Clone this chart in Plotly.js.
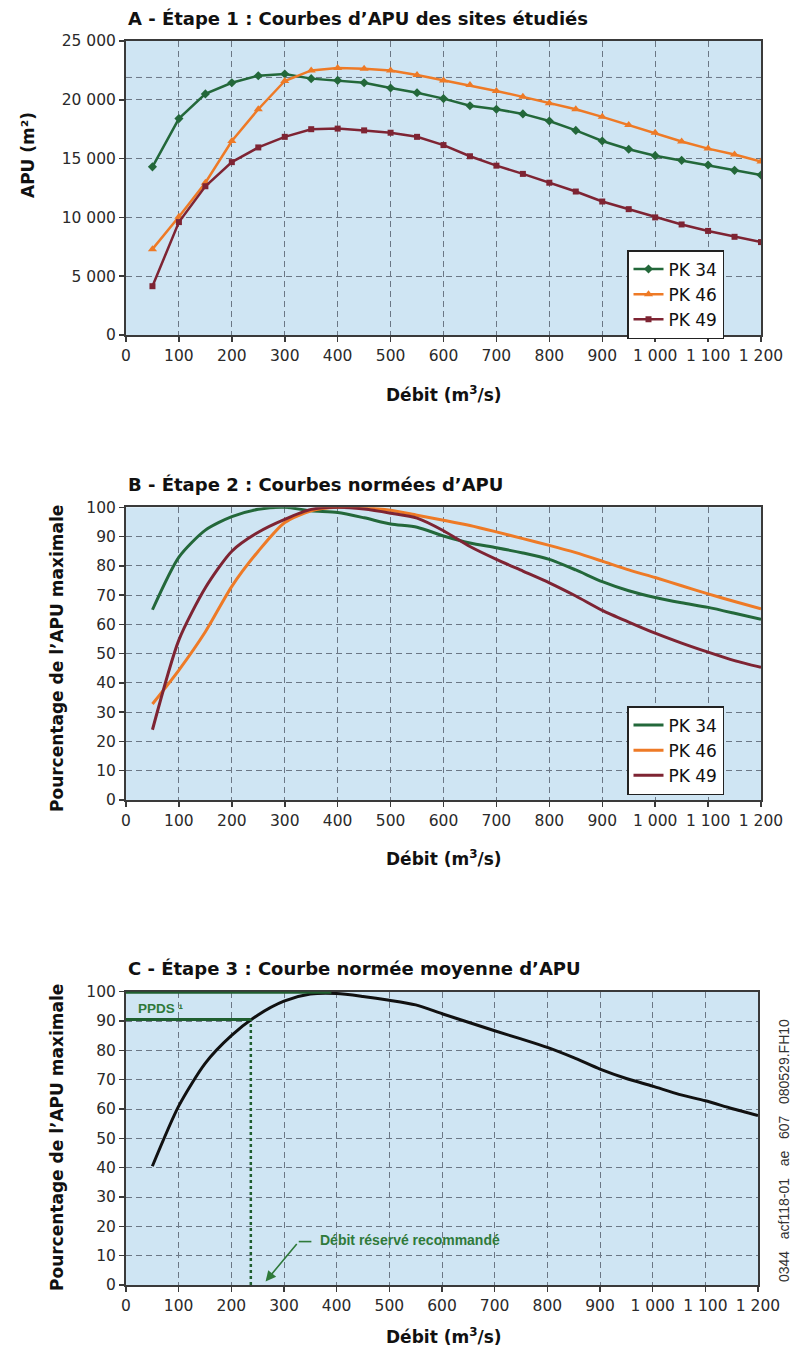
<!DOCTYPE html>
<html>
<head>
<meta charset="utf-8">
<script src="https://cdn.plot.ly/plotly-3.0.1.min.js"></script>
<style>html,body{margin:0;padding:0;background:#fff;}#chart{width:792px;height:1349px;}</style>
</head>
<body>
<div id="chart"></div>
<script>
// ---------- DATA ----------
const flows = [50,100,150,200,250,300,350,400,450,500,550,600,650,700,750,800,850,900,950,1000,1050,1100,1150,1200];

// Panel A : APU (m²)
const apuPK34 = [14300,18400,20500,21450,22050,22200,21800,21650,21450,21000,20600,20100,19500,19200,18800,18200,17400,16500,15800,15250,14850,14450,14000,13600];
const apuPK46 = [7300,10050,12950,16500,19200,21600,22500,22700,22650,22500,22100,21650,21250,20750,20250,19700,19200,18550,17850,17200,16450,15850,15350,14750];
const apuPK49 = [4150,9600,12650,14700,15950,16850,17500,17550,17400,17200,16850,16150,15200,14400,13700,12950,12200,11350,10700,10000,9400,8850,8350,7900];

// Panel B : % of max APU
const pctPK34 = [65,83,92.2,96.8,99.3,100,98.8,98.2,96.4,94.3,93.2,90.2,87.8,86.2,84.4,82.2,78.6,74.6,71.5,69.2,67.4,65.8,63.8,61.7];
const pctPK46 = [32.8,44.4,57.5,73,85,94.8,98.8,100,99.8,99,97.3,95.6,93.8,91.6,89.3,87,84.5,81.6,78.6,76,73.2,70.4,67.8,65.3];
const pctPK49 = [24,54.7,72.5,85,91.5,95.9,99.3,100,99.4,98,96.3,92,86.6,82.2,78.2,74.2,69.7,64.8,60.8,57,53.6,50.5,47.6,45.3];

// Panel C : mean normalised curve
const pctMean = [40.5,61,75.5,85,92,96.8,99.2,99.4,98.4,97.1,95.5,92.5,89.6,86.7,83.9,81,77.5,73.6,70.4,67.8,65,62.8,60.2,57.8];
const ppdsLevel = 90.5;
const recommendedFlow = 237;
const refLevelA = 21900;

// Tick labels
const xTickVals = [0,100,200,300,400,500,600,700,800,900,1000,1100,1200];
const xTickText = ["0","100","200","300","400","500","600","700","800","900","1 000","1 100","1 200"];
const yTickValsA = [0,5000,10000,15000,20000,25000];
const yTickTextA = ["0","5 000","10 000","15 000","20 000","25 000"];
const yTickValsPct = [0,10,20,30,40,50,60,70,80,90,100];
const yTickTextPct = ["0","10","20","30","40","50","60","70","80","90","100"];

const seriesNames = ["PK 34","PK 46","PK 49"];

// ---------- STYLE ----------
const cGreen = "#23683a", cOrange = "#ee7a26", cRed = "#7e2433", cDark = "#1f5f2f", cNote = "#2f7a3a";
const W = 792, H = 1349;
const px = p => p / W;
const py = p => 1 - p / H;
const FONT = "DejaVu Sans";
const tickFont = {family: FONT, size: 15.5, color: "#2a2a2a"};

function xAxis(domainRight, anchor) {
  return {
    domain: [px(126), px(domainRight)], anchor: anchor, range: [0, 1200],
    tickvals: xTickVals, ticktext: xTickText, tickfont: tickFont,
    showline: true, linecolor: "#3a3a3a", linewidth: 2, mirror: true,
    ticks: "outside", ticklen: 5, tickwidth: 1.5, tickcolor: "#3a3a3a",
    showgrid: true, gridcolor: "#6b7785", gridwidth: 1, griddash: "6px,4px",
    zeroline: false, fixedrange: true
  };
}
function yAxis(top, bottom, anchor, range, vals, text) {
  return {
    domain: [py(bottom), py(top)], anchor: anchor, range: range,
    tickvals: vals, ticktext: text, tickfont: tickFont,
    showline: true, linecolor: "#3a3a3a", linewidth: 2, mirror: true,
    ticks: "outside", ticklen: 5, tickwidth: 1.5, tickcolor: "#3a3a3a",
    showgrid: true, gridcolor: "#6b7785", gridwidth: 1, griddash: "6px,4px",
    zeroline: false, fixedrange: true
  };
}

const colors = [cGreen, cOrange, cRed];
const symbols = ["diamond", "triangle-up", "square"];
const msizes = [7, 8, 6];
const apuSeries = [apuPK34, apuPK46, apuPK49];
const pctSeries = [pctPK34, pctPK46, pctPK49];

const traces = [];
apuSeries.forEach((ys, i) => traces.push({
  x: flows, y: ys, name: seriesNames[i], type: "scatter", mode: "lines+markers",
  xaxis: "x", yaxis: "y", legend: "legend",
  line: {color: colors[i], width: 2.5},
  marker: {color: colors[i], symbol: symbols[i], size: msizes[i]}
}));
pctSeries.forEach((ys, i) => traces.push({
  x: flows, y: ys, name: seriesNames[i], type: "scatter", mode: "lines",
  xaxis: "x2", yaxis: "y2", legend: "legend2",
  line: {color: colors[i], width: 3, shape: "spline", smoothing: 0.7}
}));
traces.push({
  x: flows, y: pctMean, name: "Moyenne", type: "scatter", mode: "lines",
  xaxis: "x3", yaxis: "y3", showlegend: false,
  line: {color: "#111111", width: 3, shape: "spline", smoothing: 0.7}
});

const boldTitle = {family: FONT, size: 18, color: "#111"};
const axTitle = {family: FONT, size: 17, color: "#111"};
const sp = "\u00a0\u00a0\u00a0";

const annotations = [
  // panel titles
  {text: "<b>A - Étape 1 : Courbes d’APU des sites étudiés</b>", x: px(126), y: py(18), xref: "paper", yref: "paper", xanchor: "left", yanchor: "middle", showarrow: false, font: boldTitle},
  {text: "<b>B - Étape 2 : Courbes normées d’APU</b>", x: px(126), y: py(485), xref: "paper", yref: "paper", xanchor: "left", yanchor: "middle", showarrow: false, font: boldTitle},
  {text: "<b>C - Étape 3 : Courbe normée moyenne d’APU</b>", x: px(126), y: py(968), xref: "paper", yref: "paper", xanchor: "left", yanchor: "middle", showarrow: false, font: boldTitle},
  // x titles
  {text: "<b>Débit (m<sup>3</sup>/s)</b>", x: px(444), y: py(394), xref: "paper", yref: "paper", xanchor: "center", yanchor: "middle", showarrow: false, font: axTitle},
  {text: "<b>Débit (m<sup>3</sup>/s)</b>", x: px(444), y: py(858), xref: "paper", yref: "paper", xanchor: "center", yanchor: "middle", showarrow: false, font: axTitle},
  {text: "<b>Débit (m<sup>3</sup>/s)</b>", x: px(444), y: py(1336), xref: "paper", yref: "paper", xanchor: "center", yanchor: "middle", showarrow: false, font: axTitle},
  // y titles
  {text: "<b>APU (m²)</b>", x: px(28), y: py(155), xref: "paper", yref: "paper", xanchor: "center", yanchor: "middle", textangle: -90, showarrow: false, font: axTitle},
  {text: "<b>Pourcentage de l’APU maximale</b>", x: px(57), y: py(659), xref: "paper", yref: "paper", xanchor: "center", yanchor: "middle", textangle: -90, showarrow: false, font: axTitle},
  {text: "<b>Pourcentage de l’APU maximale</b>", x: px(57), y: py(1138), xref: "paper", yref: "paper", xanchor: "center", yanchor: "middle", textangle: -90, showarrow: false, font: axTitle},
  // side reference
  {text: "0344" + sp + "acf118-01" + sp + "ae" + sp + "607" + sp + "080529.FH10", x: px(784), y: py(1151), xref: "paper", yref: "paper", xanchor: "center", yanchor: "middle", textangle: -90, showarrow: false, font: {family: "Liberation Sans", size: 14, color: "#333"}},
  // PPDS label
  {text: "<b>PPDS ¹</b>", x: 19, y: 94.3, xref: "x3", yref: "y3", xanchor: "left", yanchor: "middle", showarrow: false, font: {family: "Liberation Sans", size: 13.5, color: cNote}},
  // recommended flow
  {text: "<b>Débit réservé recommandé</b>", x: 364, y: 15.2, xref: "x3", yref: "y3", xanchor: "left", yanchor: "middle", showarrow: false, font: {family: "Liberation Sans", size: 14, color: cNote}},
  {text: "\u00a0", x: 265, y: 1.2, xref: "x3", yref: "y3", ax: 328, ay: 14.8, axref: "x3", ayref: "y3", showarrow: true, arrowhead: 2, arrowsize: 1.3, arrowwidth: 1.6, arrowcolor: cNote, font: {size: 2}}
];

const shapes = [
  {type: "line", xref: "x", yref: "y", x0: 0, x1: 1200, y0: refLevelA, y1: refLevelA, layer: "below", line: {color: "#6b7785", width: 1, dash: "6px,4px"}},
  {type: "line", xref: "x3", yref: "y3", x0: 0, x1: 390, y0: 100, y1: 100, line: {color: cDark, width: 4}},
  {type: "line", xref: "x3", yref: "y3", x0: 0, x1: recommendedFlow, y0: ppdsLevel, y1: ppdsLevel, line: {color: cDark, width: 3}},
  {type: "line", xref: "x3", yref: "y3", x0: recommendedFlow, x1: recommendedFlow, y0: 0, y1: ppdsLevel, line: {color: cDark, width: 2.5, dash: "dot"}},
  {type: "line", xref: "x3", yref: "y3", x0: 328, x1: 352, y0: 14.8, y1: 14.8, line: {color: cNote, width: 1.6}}
];

const legendBase = {
  bgcolor: "#ffffff", bordercolor: "#222", borderwidth: 1.5,
  font: {family: FONT, size: 17, color: "#111"},
  xref: "paper", yref: "paper", xanchor: "left", yanchor: "top",
  itemwidth: 30, tracegroupgap: 0
};

const layout = {
  width: W, height: H,
  margin: {l: 0, r: 0, t: 0, b: 0},
  paper_bgcolor: "#ffffff", plot_bgcolor: "#cfe5f3",
  font: {family: FONT, color: "#222"},
  showlegend: true,
  legend: Object.assign({}, legendBase, {x: px(627), y: py(250)}),
  legend2: Object.assign({}, legendBase, {x: px(627), y: py(706)}),
  xaxis: xAxis(761, "y"),
  yaxis: yAxis(41, 335, "x", [0, 25000], yTickValsA, yTickTextA),
  xaxis2: xAxis(761, "y2"),
  yaxis2: yAxis(507.3, 800, "x2", [0, 100], yTickValsPct, yTickTextPct),
  xaxis3: xAxis(758, "y3"),
  yaxis3: yAxis(991.7, 1285, "x3", [0, 100], yTickValsPct, yTickTextPct),
  annotations: annotations,
  shapes: shapes
};

Plotly.newPlot("chart", traces, layout, {displayModeBar: false, staticPlot: true});
</script>
</body>
</html>
